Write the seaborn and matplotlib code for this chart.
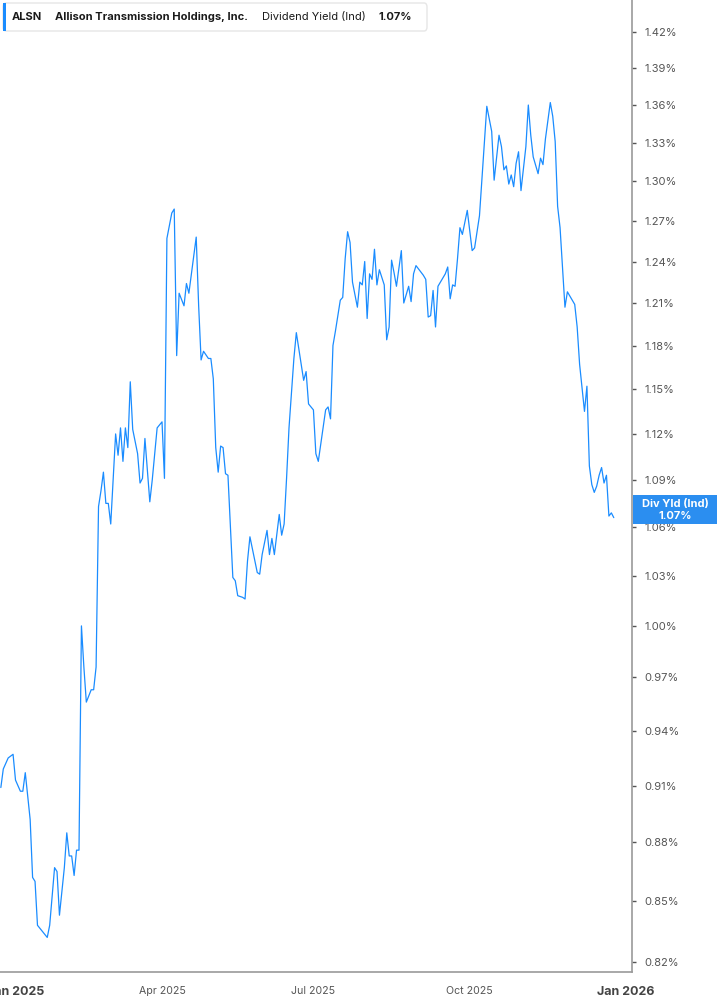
import numpy as np
import pandas as pd
import matplotlib
matplotlib.use("Agg")
import matplotlib.pyplot as plt
from matplotlib.patches import Rectangle, FancyBboxPatch
from matplotlib.ticker import FixedLocator, NullLocator
import seaborn as sns

# ---------------- data ----------------
# trading sessions counted from 2 Jan 2025 (NYSE calendar)
session = [-6, -5, -3, -1, 0, 1, 2, 3, 4, 6, 7, 8, 9, 13, 14, 16, 17, 18, 20, 21,
           22, 23, 24, 25, 26, 27, 28, 29, 31, 32, 33, 34, 35, 36, 37, 38, 39, 40, 41, 42,
           43, 44, 45, 46, 47, 48, 50, 51, 52, 53, 55, 56, 58, 60, 61, 62, 64, 65, 66, 67,
           69, 70, 71, 74, 75, 76, 77, 79, 80, 81, 82, 83, 84, 85, 86, 87, 89, 90, 91, 93,
           94, 95, 96, 99, 100, 101, 103, 104, 105, 106, 108, 109, 110, 111, 112, 114, 115, 118, 119, 120,
           122, 123, 124, 127, 128, 129, 130, 131, 133, 134, 135, 136, 137, 138, 140, 141, 142, 143, 144, 145,
           146, 147, 148, 149, 151, 152, 153, 154, 155, 156, 158, 159, 161, 162, 163, 164, 167, 168, 169, 170,
           171, 172, 173, 175, 176, 177, 178, 179, 180, 181, 182, 183, 185, 187, 188, 190, 191, 193, 195, 196,
           198, 199, 200, 201, 202, 203, 204, 205, 206, 207, 208, 209, 210, 211, 212, 214, 215, 216, 217, 219,
           220, 221, 222, 223, 225, 226, 229, 230, 231, 233, 234, 235, 236, 237, 238, 239, 240, 241, 242, 243,
           244, 245]
yield_pct = [0.909, 0.919, 0.925, 0.927, 0.913, 0.910, 0.907, 0.907, 0.917, 0.892, 0.862, 0.860, 0.838, 0.832, 0.838, 0.867, 0.865, 0.843, 0.867, 0.885,
             0.873, 0.873, 0.863, 0.876, 0.876, 1.000, 0.976, 0.956, 0.963, 0.963, 0.976, 1.073, 1.083, 1.095, 1.075, 1.075, 1.062, 1.091, 1.120, 1.106,
             1.124, 1.102, 1.124, 1.111, 1.155, 1.123, 1.107, 1.088, 1.091, 1.117, 1.076, 1.090, 1.124, 1.128, 1.091, 1.257, 1.276, 1.279, 1.173, 1.217,
             1.208, 1.224, 1.217, 1.258, 1.208, 1.170, 1.176, 1.171, 1.171, 1.157, 1.111, 1.095, 1.112, 1.111, 1.094, 1.093, 1.029, 1.027, 1.018, 1.017,
             1.016, 1.039, 1.054, 1.032, 1.031, 1.043, 1.058, 1.043, 1.053, 1.043, 1.068, 1.055, 1.062, 1.091, 1.124, 1.171, 1.189, 1.156, 1.162, 1.140,
             1.136, 1.107, 1.102, 1.136, 1.138, 1.130, 1.180, 1.190, 1.212, 1.214, 1.242, 1.262, 1.254, 1.225, 1.207, 1.225, 1.223, 1.240, 1.199, 1.231,
             1.227, 1.249, 1.223, 1.234, 1.223, 1.184, 1.193, 1.241, 1.232, 1.222, 1.248, 1.210, 1.222, 1.211, 1.231, 1.237, 1.230, 1.227, 1.200, 1.201,
             1.219, 1.193, 1.222, 1.228, 1.231, 1.236, 1.213, 1.223, 1.222, 1.242, 1.265, 1.260, 1.278, 1.248, 1.250, 1.274, 1.302, 1.359, 1.339, 1.301,
             1.336, 1.327, 1.309, 1.312, 1.298, 1.305, 1.296, 1.314, 1.323, 1.293, 1.310, 1.327, 1.360, 1.336, 1.319, 1.306, 1.318, 1.313, 1.333, 1.362,
             1.351, 1.331, 1.281, 1.265, 1.207, 1.218, 1.209, 1.193, 1.167, 1.135, 1.152, 1.099, 1.087, 1.082, 1.086, 1.093, 1.098, 1.088, 1.093, 1.067,
             1.069, 1.066]

y_ticks = [0.82, 0.85, 0.88, 0.91, 0.94, 0.97, 1.00, 1.03, 1.06, 1.09, 1.12,
           1.15, 1.18, 1.21, 1.24, 1.27, 1.30, 1.33, 1.36, 1.39, 1.42]
x_tick_dates = ["2025-01-02", "2025-04-01", "2025-07-01", "2025-10-01", "2026-01-02"]
x_tick_labels = ["Jan 2025", "Apr 2025", "Jul 2025", "Oct 2025", "Jan 2026"]
holidays = ["2025-01-01", "2025-01-09", "2025-01-20", "2025-02-17", "2025-04-18",
            "2025-05-26", "2025-06-19", "2025-07-04", "2025-09-01", "2025-11-27",
            "2025-12-25", "2026-01-01"]

ticker = "ALSN"
company = "Allison Transmission Holdings, Inc."
metric = "Dividend Yield (Ind)"
last_value = "1.07%"
badge_label = "Div Yld (Ind)"

# ---------------- figure ----------------
sns.set_style("white")
plt.rcParams["font.family"] = ["Inter", "DejaVu Sans"]

W, H = 717, 1005
fig = plt.figure(figsize=(W / 100, H / 100), dpi=100)
ax = fig.add_axes([0, 1 - 972 / H, 632 / W, 972 / H])

line_color = "#1a8cff"
df = pd.DataFrame({"session": session, "yield": yield_pct})
sns.lineplot(data=df, x="session", y="yield", ax=ax, color=line_color,
             linewidth=0.9, estimator=None, sort=False)

ax.set_yscale("log")
ax.set_ylim(0.8152, 1.447)
ax.yaxis.set_major_locator(FixedLocator(y_ticks))
ax.yaxis.set_minor_locator(NullLocator())
ax.set_yticklabels([f"{t:.2f}%" for t in y_ticks])
ax.yaxis.tick_right()

tick_pos = [int(np.busday_count("2025-01-02", d, holidays=holidays)) for d in x_tick_dates]
ax.set_xticks(tick_pos)
ax.set_xticklabels(x_tick_labels)
origin_px = 15.5
px_per = (626 - origin_px) / (tick_pos[-1] - tick_pos[0])
ax.set_xlim(tick_pos[0] - origin_px / px_per, tick_pos[0] + (632 - origin_px) / px_per)

ax.set_xlabel("")
ax.set_ylabel("")

for s in ["top", "left"]:
    ax.spines[s].set_visible(False)
for s in ["right", "bottom"]:
    ax.spines[s].set_color("#9a9a9a")
    ax.spines[s].set_linewidth(1.2)

ax.tick_params(axis="y", which="major", length=3, width=1, color="#555555",
               labelcolor="#555555", labelsize=8.0, pad=6)
ax.tick_params(axis="x", which="major", length=4, width=1, color="#9a9a9a",
               labelcolor="#555555", labelsize=7.6, pad=6)
for lbl in ax.get_xticklabels():
    if lbl.get_text().startswith("Jan"):
        lbl.set_fontweight("bold")
        lbl.set_fontsize(9.0)
        lbl.set_color("#444444")

# header box
def fx(px):
    return px / W

def fy(py):
    return 1 - py / H

box = FancyBboxPatch((fx(3), fy(31)), fx(427) - fx(3), fy(3) - fy(31),
                     boxstyle="round,pad=0,rounding_size=0.004",
                     transform=fig.transFigure, facecolor="white",
                     edgecolor="#e6e6e6", linewidth=1, zorder=5)
fig.patches.append(box)
fig.patches.append(Rectangle((fx(3), fy(31)), fx(3), fy(3) - fy(31),
                             transform=fig.transFigure, facecolor=line_color,
                             edgecolor="none", zorder=6))
hy = fy(17)
hs = 8.0
fig.text(fx(12), hy, ticker, fontsize=hs, fontweight="bold", color="#1a1a1a", va="center", zorder=7)
fig.text(fx(55), hy, company, fontsize=hs, fontweight="bold", color="#1a1a1a", va="center", zorder=7)
fig.text(fx(262), hy, metric, fontsize=hs, color="#1a1a1a", va="center", zorder=7)
fig.text(fx(378), hy, last_value, fontsize=hs, fontweight="bold", color="#1a1a1a", va="center", zorder=7)

# last-value badge on the right axis
fig.patches.append(Rectangle((fx(633), fy(524)), fx(717) - fx(633), fy(495) - fy(524),
                             transform=fig.transFigure, facecolor="#2b8ef0",
                             edgecolor="none", zorder=6))
fig.text(fx(675), fy(504), badge_label, fontsize=8, fontweight="bold", color="white",
         ha="center", va="center", zorder=7)
fig.text(fx(675), fy(516), last_value, fontsize=8, fontweight="bold", color="white",
         ha="center", va="center", zorder=7)

fig.savefig("out.png", dpi=100)
